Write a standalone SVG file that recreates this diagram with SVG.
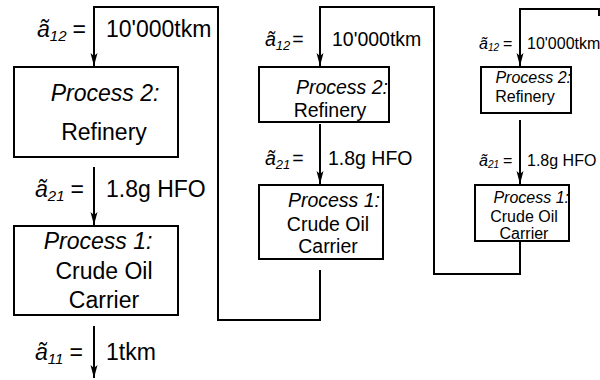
<svg xmlns="http://www.w3.org/2000/svg" width="600" height="380" viewBox="0 0 600 380">
<style>
text{font-family:"Liberation Sans",Arial,sans-serif;fill:#000}
.it{font-style:italic}
.box{fill:#fff;stroke:#000;stroke-width:2}
.ln{fill:none;stroke:#000;stroke-width:2}
.p1{font-size:23px}
.p2{font-size:19.5px}
.p3{font-size:16px}
.c{text-anchor:middle}
</style>
<defs>
<marker id="ah" markerUnits="userSpaceOnUse" markerWidth="14" markerHeight="10" refX="13" refY="5" orient="auto" viewBox="0 0 14 10"><path d="M0,1.5 L13,5 L0,8.5 L3,5 Z" fill="#000"/></marker>
</defs>
<rect width="600" height="380" fill="#fff"/>
<g id="connectors">
<path class="ln" d="M320,270 V320 H218 V7 H94 V66" marker-end="url(#ah)"/>
<path class="ln" d="M94,167 V225" marker-end="url(#ah)"/>
<path class="ln" d="M94,326 V378" marker-end="url(#ah)"/>
<path class="ln" d="M520,241 V274 H434 V7 H320 V66" marker-end="url(#ah)"/>
<path class="ln" d="M320,124 V184" marker-end="url(#ah)"/>
<path class="ln" d="M599,16 V9 H520 V66" marker-end="url(#ah)"/>
<path class="ln" d="M520,120 V184" marker-end="url(#ah)"/>
</g>
<g id="labels1" class="p1">
<text x="37" y="37"><tspan class="it">ã</tspan><tspan class="it" font-size="15" dy="4">12</tspan><tspan dy="-4" dx="6">=</tspan></text>
<text x="106" y="37">10'000tkm</text>
<text x="35" y="197"><tspan class="it">ã</tspan><tspan class="it" font-size="15" dy="4">21</tspan><tspan dy="-4" dx="6">=</tspan></text>
<text x="106" y="197">1.8g HFO</text>
<text x="35" y="360"><tspan class="it">ã</tspan><tspan class="it" font-size="15" dy="4">11</tspan><tspan dy="-4" dx="6">=</tspan></text>
<text x="106" y="360">1tkm</text>
</g>
<g id="n1-refinery">
<rect class="box" x="14" y="67" width="164" height="90"/>
<text class="p1 it c" x="105" y="101" font-size="24.5">Process 2:</text>
<text class="p1 c" x="104" y="140">Refinery</text>
</g>
<g id="n1-carrier">
<rect class="box" x="14" y="226" width="164" height="89"/>
<text class="p1 it c" x="98" y="249" font-size="24.5">Process 1:</text>
<text class="p1 c" x="104" y="279">Crude Oil</text>
<text class="p1 c" x="104" y="308">Carrier</text>
</g>
<g id="labels2" class="p2">
<text x="265" y="46"><tspan class="it">ã</tspan><tspan class="it" font-size="13" dy="4">12</tspan><tspan dy="-4" dx="2">=</tspan></text>
<text x="332" y="46">10'000tkm</text>
<text x="265" y="165"><tspan class="it">ã</tspan><tspan class="it" font-size="13" dy="4">21</tspan><tspan dy="-4" dx="2">=</tspan></text>
<text x="328" y="165">1.8g HFO</text>
</g>
<g id="n2-refinery">
<rect class="box" x="259" y="67" width="130" height="55"/>
<text class="p2 it" x="388" y="94" text-anchor="end" font-size="21">Process 2:</text>
<text class="p2 c" x="330" y="117">Refinery</text>
</g>
<g id="n2-carrier">
<rect class="box" x="259" y="185" width="124" height="74"/>
<text class="p2 it" x="380" y="207" text-anchor="end" font-size="21">Process 1:</text>
<text class="p2 c" x="328" y="231">Crude Oil</text>
<text class="p2 c" x="328" y="253">Carrier</text>
</g>
<g id="labels3" class="p3">
<text x="479" y="49"><tspan class="it">ã</tspan><tspan class="it" font-size="10" dy="2">12</tspan><tspan dy="-2" dx="4">=</tspan></text>
<text x="527" y="49">10'000tkm</text>
<text x="479" y="166"><tspan class="it">ã</tspan><tspan class="it" font-size="10" dy="2">21</tspan><tspan dy="-2" dx="4">=</tspan></text>
<text x="527" y="166">1.8g HFO</text>
</g>
<g id="n3-refinery">
<rect class="box" x="481" y="67" width="90" height="46"/>
<text class="p3 it" x="571" y="83" text-anchor="end" font-size="17">Process 2:</text>
<text class="p3 c" x="525" y="102">Refinery</text>
</g>
<g id="n3-carrier">
<rect class="box" x="475" y="185" width="94" height="56"/>
<text class="p3 it" x="569" y="203" text-anchor="end" font-size="17">Process 1:</text>
<text class="p3 c" x="524" y="222">Crude Oil</text>
<text class="p3 c" x="524" y="239">Carrier</text>
</g>
</svg>
